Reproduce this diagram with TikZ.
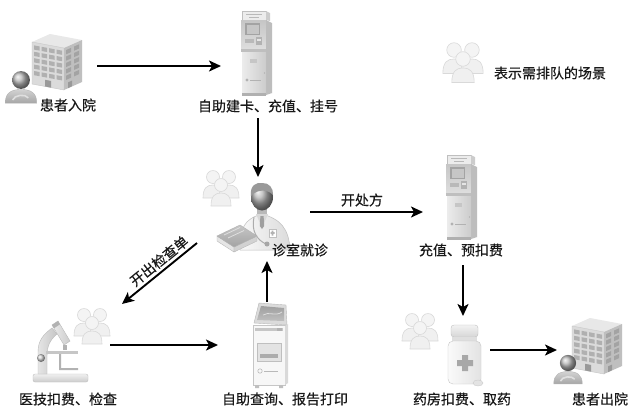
\documentclass[tikz,border=0pt]{standalone}
\usepackage{fontspec}
\setmainfont{Noto Sans CJK SC}[FakeBold=0.4]
\usetikzlibrary{arrows.meta}

\tikzset{
  flow/.style={line width=1.9pt, -{Stealth[length=12pt,width=11pt,inset=3pt]}},
  lbl/.style={font=\fontsize{14}{16}\selectfont, inner sep=0pt, text=black!90},
  % three people standing in a queue
  crowd/.pic={
    \foreach \dx/\dy in {-8/0, 8/0, 0/8} {
      \path[fill=gray!12, draw=gray!30, line width=0.6pt]
        (\dx-10,\dy+21) .. controls (\dx-10,\dy+11) and (\dx-6,\dy+8) .. (\dx,\dy+8)
        .. controls (\dx+6,\dy+8) and (\dx+10,\dy+11) .. (\dx+10,\dy+21) -- cycle;
      \path[fill=gray!9, draw=gray!30, line width=0.6pt] (\dx,\dy) circle (6.5);
    }
  },
  % patient figure, head centred on the origin
  patient/.pic={
    \shade[top color=gray!35, bottom color=gray!70, draw=gray!60, line width=0.4pt]
      (-15,22) .. controls (-15,12) and (-9,9) .. (0,9) .. controls (9,9) and (15,12) .. (15,22) -- cycle;
    \draw[gray!25, line width=1.6pt] (-8,19) .. controls (-6,14) and (4,13) .. (7,17);
    \shade[ball color=gray!55] (0,0) circle (8.5);
  },
  % hospital building, origin at the top-left corner of the front face
  building/.pic={
    \fill[gray!18] (0,6) -- (18,-2) -- (50,4) -- (32,12) -- cycle;
    \fill[gray!28, draw=gray!45, line width=0.4pt] (0,6) -- (32,12) -- (32,54) -- (0,48) -- cycle;
    \fill[gray!50] (32,12) -- (50,4) -- (50,46) -- (32,54) -- cycle;
    \foreach \i in {0,...,3} \foreach \j in {0,...,4} {
      \fill[gray!62] ({2+\i*7.5},{9+\j*6.4+(2+\i*7.5)*0.1875}) -- ++(5.5,1.03) -- ++(0,4.2) -- ++(-5.5,-1.03) -- cycle;
    }
    \foreach \i in {0,1} \foreach \j in {0,...,4} {
      \fill[gray!72] ({34+\i*8},{15+\j*6.4-(\i*8+2)*0.444}) -- ++(5,-2.22) -- ++(0,4.2) -- ++(-5,2.22) -- cycle;
    }
    \fill[gray!80] (13,43.8) -- (19,44.9) -- (19,51.6) -- (13,50.4) -- cycle;
    \fill[gray!80] (36,46.4) -- (40,44.6) -- (40,50.2) -- (36,52.2) -- cycle;
  },
  % bank-style self-service machine, origin at the top-left corner
  atm/.pic={
    \fill[gray!15, draw=gray!50, line width=0.4pt] (1,0) rectangle (25,9);
    \draw[gray!55, line width=0.5pt] (5,3) -- (21,3) (8,6) -- (18,6);
    \fill[gray!40] (25,0) -- (29,2) -- (29,10) -- (25,9) -- cycle;
    \shade[top color=gray!45, bottom color=gray!25] (0,9) rectangle (25,40);
    \fill[gray!52] (25,9) -- (31,12) -- (31,82) -- (25,84) -- cycle;
    \fill[gray!72] (4,12) rectangle (19,24);
    \fill[gray!45] (5.5,13.5) rectangle (17.5,22.5);
    \fill[gray!55] (4,28) rectangle (13,32);
    \fill[gray!60] (15,26) rectangle (21,34);
    \fill[gray!20] (16,27.5) rectangle (20,30);
    \fill[gray!50] (0,38) rectangle (25,41);
    \shade[left color=gray!15, right color=gray!40] (1,41) rectangle (25,82);
    \fill[gray!45] (9,48) rectangle (16,52);
    \fill[gray!60] (6,69) circle (1.6);
    \draw[gray!60, line width=0.7pt] (9,69) -- (20,69);
    \fill[gray!70] (23.5,62) circle (0.6);
    \fill[gray!62] (1,82) rectangle (25,85);
  },
  % report-printing kiosk, origin at the top-left corner
  kiosk/.pic={
    \fill[gray!28, draw=gray!55, line width=0.4pt] (8,0) -- (35,2) -- (36,22) -- (3,20) -- cycle;
    \shade[top color=gray!75, bottom color=gray!50] (10,3) -- (33,5) -- (33,18) -- (6,17) -- cycle;
    \draw[gray!25, line width=0.8pt] (12,12) .. controls (18,8) and (24,14) .. (31,9);
    \fill[gray!6, draw=gray!45, line width=0.4pt] (2,22) rectangle (34,82);
    \fill[gray!30] (34,23) -- (37,21) -- (37,80) -- (34,82) -- cycle;
    \fill[gray!45] (4,25) rectangle (32,27.5);
    \fill[gray!60] (26,25) rectangle (31,27.5);
    \fill[gray!22, draw=gray!50, line width=0.4pt] (6,40) rectangle (30,58);
    \fill[gray!65] (9,51) rectangle (27,54.5);
    \draw[gray!55, line width=0.6pt] (9,68) circle (2.2);
    \draw[gray!55, line width=0.8pt] (13,68) -- (27,68);
    \fill[gray!50] (4,82) rectangle (8,85) (28,82) rectangle (32,85);
  },
  % doctor at the desk, origin at the centre of the head
  doctor/.pic={
    \shade[left color=gray!5, right color=gray!28, draw=gray!50, line width=0.5pt]
      (-22,53) .. controls (-22,31) and (-18,22) .. (0,17) .. controls (18,22) and (27,31) .. (28,53) -- cycle;
    \fill[gray!55] (-5,9) rectangle (5,19);
    \fill[gray!30] (-6,17) -- (0,31) -- (6,17) -- cycle;
    \fill[gray!75] (-1.6,19) -- (1.6,19) -- (2.2,29) -- (0,32) -- (-2.2,29) -- cycle;
    \shade[ball color=gray!60] (0,0) ellipse [x radius=11, y radius=13.5];
    \fill[gray!80] (-11,-1) .. controls (-12.5,-12) and (-5,-15) .. (0,-14)
      .. controls (7,-14.5) and (11.5,-9) .. (11,-2) .. controls (7,-7) and (-4,-9) .. (-11,-1) -- cycle;
    \draw[gray!65, line width=1pt] (-8,20) .. controls (-11,34) and (-5,43) .. (4,47);
    \fill[gray!70] (5,47) circle (2.5);
    \fill[white, draw=gray!50, line width=0.4pt] (7,32) rectangle (14,40);
    \fill[gray!60] (9.6,33.5) rectangle (11.4,38.5) (8.5,35.1) rectangle (12.5,36.9);
    \fill[gray!20, draw=gray!55, line width=0.4pt] (-45,39) -- (-28,50) -- (-28,55) -- (-45,44) -- cycle;
    \fill[gray!35, draw=gray!55, line width=0.4pt] (-28,50) -- (-5,39) -- (-5,44) -- (-28,55) -- cycle;
    \shade[top color=gray!45, bottom color=gray!72, draw=gray!60, line width=0.4pt]
      (-45,39) -- (-22,28) -- (-5,39) -- (-28,50) -- cycle;
    \draw[gray!25, line width=0.8pt] (-38,38) -- (-22,30.5) (-34,41) -- (-18,33.5);
  },
  % microscope, origin at the top-left corner
  microscope/.pic={
    \shade[top color=gray!12, bottom color=gray!40, draw=gray!50, line width=0.4pt, rounded corners=2]
      (0,52) rectangle (55,60);
    \shade[left color=gray!20, right color=gray!45, draw=gray!55, line width=0.4pt]
      (5,52) -- (5,30) .. controls (5,18) and (11,12) .. (19,6) -- (24,12)
      .. controls (17,18) and (14,24) .. (14,34) -- (14,52) -- cycle;
    \shade[left color=gray!15, right color=gray!40, draw=gray!55, line width=0.4pt]
      (19,3) -- (25,-1) -- (37,19) -- (31,23) -- cycle;
    \fill[gray!60] (19,3) -- (25,-1) -- (27,2.3) -- (21,6.3) -- cycle;
    \fill[gray!60] (30,23) rectangle (34,28);
    \fill[gray!45] (13,29) rectangle (45,32);
    \fill[gray!60] (26,32) rectangle (28,48) (28,46) rectangle (45,48);
    \shade[ball color=gray!35] (8,36) circle (4);
  },
  % medicine bottle, origin at the top-left corner
  bottle/.pic={
    \shade[top color=gray!10, bottom color=gray!32, draw=gray!50, line width=0.4pt, rounded corners=3]
      (3,0) rectangle (30,12);
    \fill[gray!25] (4,12) rectangle (29,16);
    \shade[left color=gray!4, right color=gray!22, draw=gray!45, line width=0.4pt, rounded corners=5]
      (0,16) rectangle (33,59);
    \fill[gray!68] (9,35) rectangle (25,41) (14,30) rectangle (20,46);
    \fill[gray!22, draw=gray!45, line width=0.3pt] (30,58) ellipse [x radius=5, y radius=3];
  },
}

\begin{document}
\begin{tikzpicture}[x=1pt, y=-1pt]
  \fill[white] (0,0) rectangle (628,408);
  \useasboundingbox (0,0) rectangle (628,408);

  % icons
  \pic (hosp-in) at (32,36) {building};
  \pic (pat-in) [scale=1.05] at (21,80) {patient};
  \pic (atm-reg) at (241,11) {atm};
  \pic (q-doc) at (221,177) {crowd};
  \pic (doc) at (262,197) {doctor};
  \pic (atm-pay) at (446,155) {atm};
  \pic (q-key) [scale=1.12] at (463,50) {crowd};
  \pic (q-lab) at (92,315) {crowd};
  \pic (micro) at (33,322) {microscope};
  \pic (kio) at (251,303) {kiosk};
  \pic (q-ph) at (420,320) {crowd};
  \pic (med) at (448,325) {bottle};
  \pic (hosp-out) at (572,320) {building};
  \pic (pat-out) [scale=0.95] at (568,363) {patient};

  % captions
  \node[lbl] (t-in)   at (68,105)  {患者入院};
  \node[lbl] (t-reg)  at (268,106) {自助建卡、充值、挂号};
  \node[lbl] (t-doc)  at (300,250) {诊室就诊};
  \node[lbl] (t-pay)  at (461,250) {充值、预扣费};
  \node[lbl] (t-key)  at (550,73)  {表示需排队的场景};
  \node[lbl] (t-lab)  at (68,399)  {医技扣费、检查};
  \node[lbl] (t-rep)  at (285,399) {自助查询、报告打印};
  \node[lbl] (t-ph)   at (462,399) {药房扣费、取药};
  \node[lbl] (t-out)  at (600,399) {患者出院};
  \node[lbl] (t-rx)   at (362,200) {开处方};
  \node[lbl, rotate=39] (t-ex) at (159,261) {开出检查单};

  % connector ends
  \coordinate (in-out)   at (97,66);
  \coordinate (reg-in)   at (221,66);
  \coordinate (reg-out)  at (258,118);
  \coordinate (doc-in)   at (258,177);
  \coordinate (doc-rx)   at (310,212);
  \coordinate (pay-in)   at (423,212);
  \coordinate (pay-out)  at (463,265);
  \coordinate (ph-in)    at (463,316);
  \coordinate (ph-out)   at (490,350);
  \coordinate (out-in)   at (557,350);
  \coordinate (doc-ex)   at (197,243);
  \coordinate (lab-in)   at (122,304);
  \coordinate (lab-out)  at (110,345);
  \coordinate (rep-in)   at (218,345);
  \coordinate (rep-out)  at (267,302);
  \coordinate (doc-back) at (267,261);

  % flow of the visit
  \draw[flow] (in-out) -- (reg-in);
  \draw[flow] (reg-out) -- (doc-in);
  \draw[flow] (doc-rx) -- (pay-in);
  \draw[flow] (pay-out) -- (ph-in);
  \draw[flow] (ph-out) -- (out-in);
  \draw[flow] (doc-ex) -- (lab-in);
  \draw[flow] (lab-out) -- (rep-in);
  \draw[flow] (rep-out) -- (doc-back);
\end{tikzpicture}
\end{document}
